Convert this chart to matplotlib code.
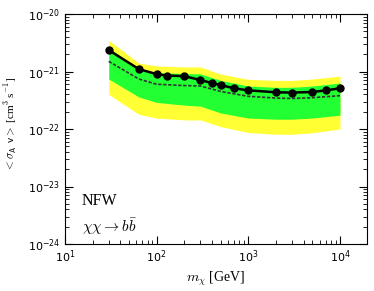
import matplotlib
matplotlib.use("Agg")
import matplotlib.pyplot as plt
import numpy as np

plt.rcParams['mathtext.fontset'] = 'cm'

# observed limit
mass = [30, 64, 100, 130, 200, 300, 400, 500, 700, 1000, 2000, 3000, 5000, 7000, 10000]
limit = [2.35e-21, 1.1e-21, 9.0e-22, 8.5e-22, 8.3e-22, 7.1e-22, 6.3e-22, 5.8e-22,
         5.1e-22, 4.7e-22, 4.35e-22, 4.3e-22, 4.4e-22, 4.7e-22, 5.1e-22]

# expected bands
band_m = [30, 64, 100, 200, 300, 500, 1000, 2000, 3000, 5000, 10000]
median = [1.5e-21, 7.4e-22, 6.0e-22, 5.7e-22, 5.6e-22, 4.5e-22, 3.7e-22, 3.45e-22, 3.4e-22, 3.5e-22, 3.8e-22]
g_hi = [2.6e-21, 1.1e-21, 9.5e-22, 9.2e-22, 9.1e-22, 7.0e-22, 5.6e-22, 5.3e-22, 5.3e-22, 5.6e-22, 6.3e-22]
g_lo = [7.4e-22, 3.6e-22, 2.9e-22, 2.6e-22, 2.5e-22, 1.9e-22, 1.55e-22, 1.48e-22, 1.48e-22, 1.55e-22, 1.74e-22]
y_hi = [3.5e-21, 1.4e-21, 1.25e-21, 1.2e-21, 1.2e-21, 9.0e-22, 7.3e-22, 7.0e-22, 7.0e-22, 7.4e-22, 8.3e-22]
y_lo = [4.0e-22, 1.8e-22, 1.55e-22, 1.44e-22, 1.44e-22, 1.1e-22, 8.7e-23, 8.1e-23, 8.1e-23, 8.6e-23, 1.0e-22]

yticks = [1e-24, 1e-23, 1e-22, 1e-21, 1e-20]
xticks = [10, 100, 1000, 10000]

fig = plt.figure(figsize=(3.74, 2.91), dpi=100)
ax = fig.add_axes([65/374, 1-244/291, 302/374, 230/291])

ax.fill_between(band_m, y_lo, y_hi, color='#ffff33', lw=0)
ax.fill_between(band_m, g_lo, g_hi, color='#22ff33', lw=0)
ax.plot(band_m, median, color='#333333', lw=1.2, ls=(0, (2, 1)))
ax.plot(mass, limit, color='black', lw=1.8, marker='o', ms=5)

ax.set_xscale('log')
ax.set_yscale('log')
ax.set_xticks(xticks)
ax.set_yticks(yticks)
ax.set_xlim(10, 1.97e4)
ax.set_ylim(1e-24, 1e-20)

ax.tick_params(which='both', direction='in', top=True, right=True, labelsize=8)
ax.tick_params(which='major', length=6)
ax.tick_params(which='minor', length=3)

ax.set_xlabel(r'$m_\chi$ [GeV]', fontsize=10, family='Liberation Serif', labelpad=3)
ax.set_ylabel(r'$<\mathsf{\sigma_A\ v}>$ [cm$^3$ s$^{-1}$]', fontsize=8, family='Liberation Serif')
ax.yaxis.set_label_coords(-46/302, 0.52)

ax.text(0.056, 0.17, 'NFW', transform=ax.transAxes, fontsize=11.5, family='Liberation Serif')
ax.text(0.056, 0.052, r'$\chi\chi \rightarrow b\bar{b}$', transform=ax.transAxes, fontsize=11)

fig.savefig('out.png', dpi=100)
